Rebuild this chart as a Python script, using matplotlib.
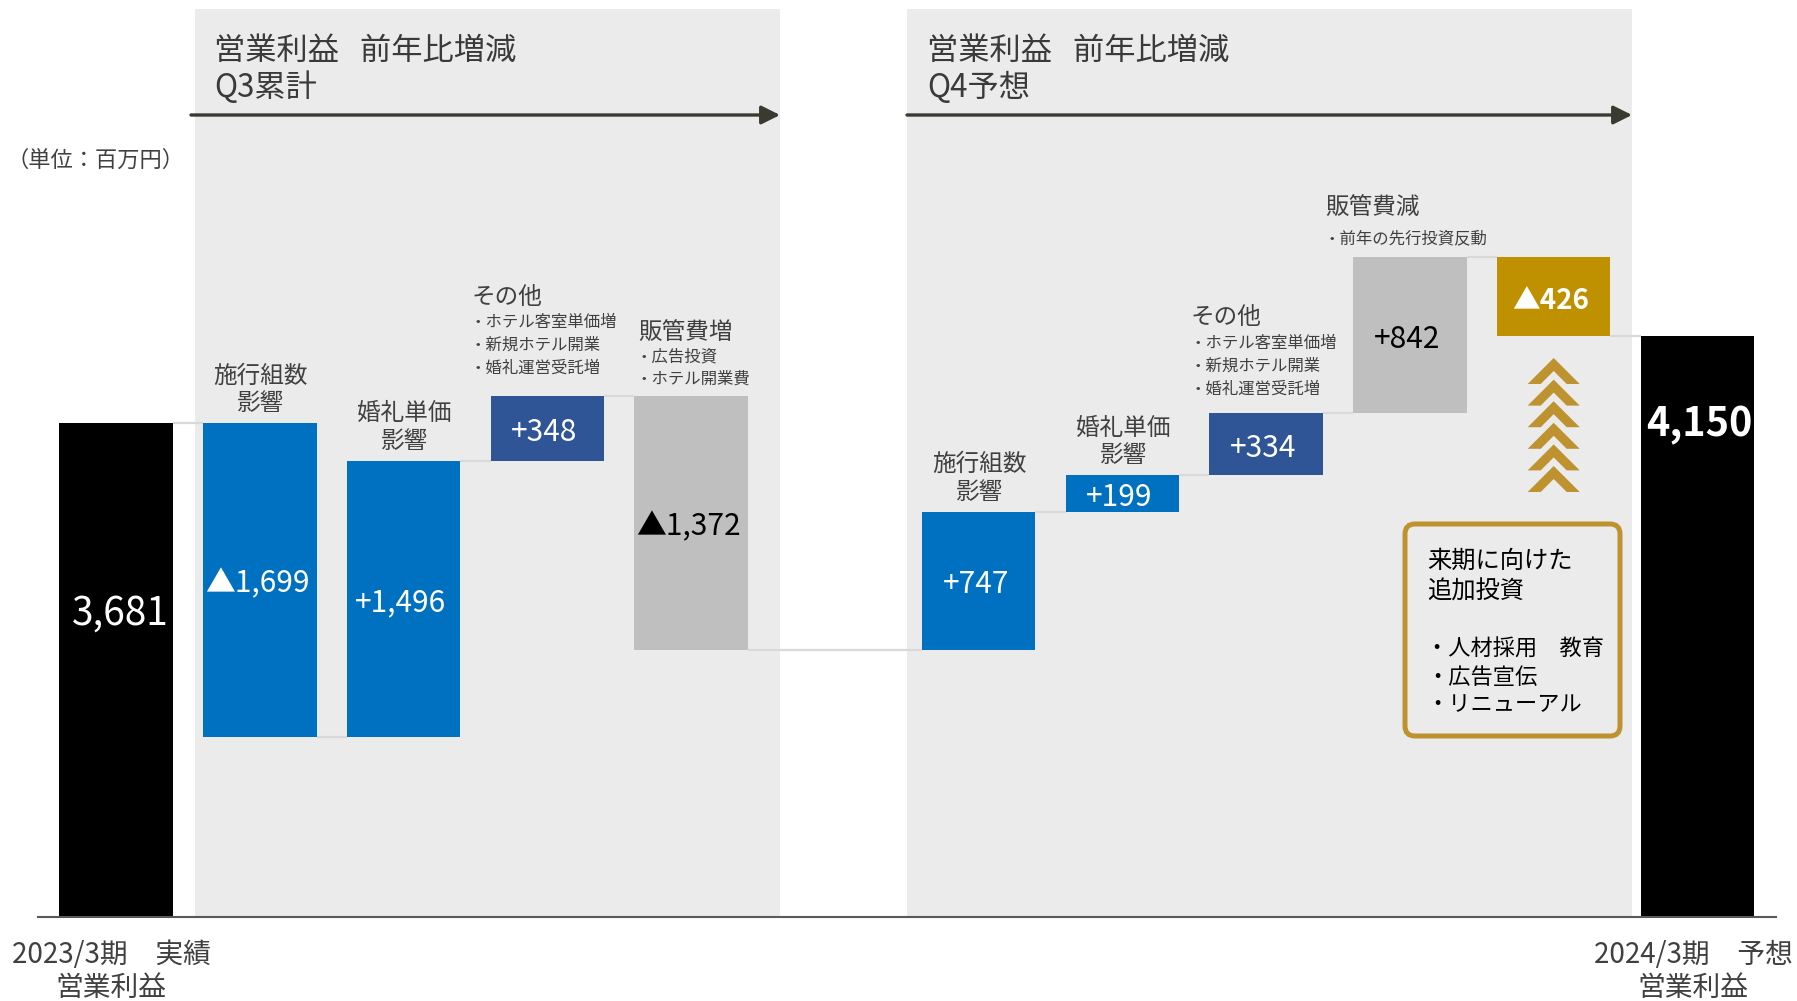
import matplotlib
matplotlib.use('Agg')
import matplotlib.pyplot as plt
from matplotlib.patches import Rectangle, FancyBboxPatch, Polygon

plt.rcParams['font.family'] = ['Noto Sans CJK JP', 'DejaVu Sans']

# * data (単位：百万円)
start_label = ['2023/3期　実績', '営業利益']
end_label = ['2024/3期　予想', '営業利益']
start_value = 3681
end_value = 4150
step_values = [-1699, 1496, 348, -1372, 747, 199, 334, 842, -426]
step_titles = [['施行組数', '影響'], ['婚礼単価', '影響'], None, None,
               ['施行組数', '影響'], ['婚礼単価', '影響'], None, None, None]
side_notes = [
    ('その他', ['・ホテル客室単価増', '・新規ホテル開業', '・婚礼運営受託増']),
    ('販管費増', ['・広告投資', '・ホテル開業費']),
    ('その他', ['・ホテル客室単価増', '・新規ホテル開業', '・婚礼運営受託増']),
    ('販管費減', ['・前年の先行投資反動']),
]
panel_titles = [('営業利益   前年比増減', 'Q3累計'), ('営業利益   前年比増減', 'Q4予想')]
box_title = ['来期に向けた', '追加投資']
box_items = ['・人材採用　教育', '・広告宣伝', '・リニューアル']

# * layout
W, H = 1797, 1001
step_pos = [1, 2, 3, 4, 6, 7, 8, 9, 10]
start_pos, end_pos = 0, 11
bar_w = 0.79
x0_px, dx_px = 116, 143.77        # pixel x of slot 0, pixels per slot
y_ref_px, px_per_unit = 423, 0.185  # pixel y of start_value
base_px = 917

BLUE = '#0070C0'
NAVY = '#2F5597'
GRAY = '#BFBFBF'
GOLD = '#BF9000'
GOLD2 = '#BF9230'
TXT = '#404040'
step_colors = [BLUE, BLUE, NAVY, GRAY, BLUE, BLUE, NAVY, GRAY, GOLD]


def px_to_val(p):
    return start_value + (y_ref_px - p) / px_per_unit


def val_to_px(v):
    return y_ref_px + (start_value - v) * px_per_unit


def slot_to_px(s):
    return x0_px + s * dx_px


fig = plt.figure(figsize=(W / 100, H / 100), dpi=100)

back = fig.add_axes([0, 0, 1, 1], zorder=0)
back.set_xlim(0, W)
back.set_ylim(H, 0)
back.axis('off')

ax = fig.add_axes([0, 1 - base_px / H, 1, base_px / H], zorder=1)
ax.patch.set_visible(False)
ax.set_xlim(-x0_px / dx_px, (W - x0_px) / dx_px)
ax.set_ylim(px_to_val(base_px), px_to_val(0))
ax.axis('off')

front = fig.add_axes([0, 0, 1, 1], zorder=2)
front.patch.set_visible(False)
front.set_xlim(0, W)
front.set_ylim(H, 0)
front.axis('off')

# 背景パネル
for left, right in [(195, 780), (907, 1632)]:
    back.add_patch(Rectangle((left, 9), right - left, base_px - 9,
                             facecolor='#EBEBEB', edgecolor='none'))

# 滝グラフ
bottoms, heights, levels = [], [], [start_value]
level = start_value
for v in step_values:
    bottoms.append(level if v > 0 else level + v)
    heights.append(abs(v))
    level += v
    levels.append(level)

ax.bar([start_pos, end_pos], [start_value, end_value], width=bar_w,
       color='black', zorder=3)
ax.bar(step_pos, heights, bottom=bottoms, width=bar_w, color=step_colors,
       zorder=3)

all_pos = [start_pos] + step_pos + [end_pos]
for k in range(len(all_pos) - 1):
    ax.hlines(levels[k], all_pos[k] + bar_w / 2, all_pos[k + 1] - bar_w / 2,
              color='#D9D9D9', lw=1.6, zorder=2)

# 数値ラベル
for p, b, h, v, c in zip(step_pos, bottoms, heights, step_values, step_colors):
    txt = ('+{:,}' if v > 0 else '▲{:,}').format(abs(v))
    bold = c == GOLD
    y = px_to_val(val_to_px(b + h / 2) + 4)
    ax.text(p - 0.02, y, txt, ha='center', va='center',
            color='black' if c == GRAY else 'white',
            fontsize=20 if bold else 21.5,
            fontweight='bold' if bold else 'normal', zorder=4)
ax.text(start_pos + 0.03, px_to_val(614), '{:,}'.format(start_value),
        ha='center', va='center', color='white', fontsize=28, zorder=4)
ax.text(end_pos + 0.01, px_to_val(425), '{:,}'.format(end_value),
        ha='center', va='center', color='white', fontsize=28.5,
        fontweight='bold', zorder=4)

# 項目名（棒の上）
for p, b, h, t in zip(step_pos, bottoms, heights, step_titles):
    if t is None:
        continue
    top_px = val_to_px(b + h)
    front.text(slot_to_px(p) + 1, top_px - 47, t[0], ha='center', va='center',
               fontsize=17, color=TXT)
    front.text(slot_to_px(p) + 1, top_px - 19, t[1], ha='center', va='center',
               fontsize=17, color=TXT)

note_xy = [(472, [297, 323, 345, 368]), (638, [332, 357, 379]),
           (1191, [317, 343.5, 366, 389]), (1325, [208, 239])]
for (head, items), (x, ys) in zip(side_notes, note_xy):
    front.text(x, ys[0], head, ha='left', va='center', fontsize=17, color=TXT)
    for it, y in zip(items, ys[1:]):
        front.text(x - 2, y, it, ha='left', va='center', fontsize=11.8,
                   color=TXT)

# 見出しと矢印
for (l1, l2), x, (a0, a1) in zip(panel_titles, [214, 927],
                                 [(191, 780), (907, 1632)]):
    front.text(x, 51, l1, ha='left', va='center', fontsize=22.5,
               color='#3A3A3A')
    front.text(x, 88, l2, ha='left', va='center', fontsize=22.5,
               color='#3A3A3A')
    front.annotate('', xy=(a1, 115), xytext=(a0, 115),
                   arrowprops=dict(arrowstyle='-|>', lw=2.4, color='#3B3A30',
                                   mutation_scale=28, shrinkA=0, shrinkB=0))

front.text(7, 160, '（単位：百万円）', ha='left', va='center',
           fontsize=16, color=TXT)

# 基準線
front.plot([38, 1776], [base_px, base_px], color='#595959', lw=1.5)

# 下部ラベル
for lines, x in [(start_label, 111), (end_label, 1693)]:
    front.text(x, 955, lines[0], ha='center', va='center', fontsize=20,
               color=TXT)
    front.text(x, 988, lines[1], ha='center', va='center', fontsize=20,
               color=TXT)

# 上向きシェブロン
cx = slot_to_px(10)
for k in range(6):
    top = 358 + k * 21.6
    t = 13
    front.add_patch(Polygon([(cx, top), (cx + 26, top + 26),
                             (cx + 26 - t, top + 26), (cx, top + t),
                             (cx - 26 + t, top + 26), (cx - 26, top + 26)],
                            closed=True, facecolor=GOLD2, edgecolor='none'))

# 来期投資ボックス
front.add_patch(FancyBboxPatch((1405, 524), 215, 212,
                               boxstyle='round,pad=0,rounding_size=10',
                               fill=False, edgecolor=GOLD2, lw=3.6))
for s, y in zip(box_title, [561, 592]):
    front.text(1427, y, s, ha='left', va='center', fontsize=17.5,
               color='black')
for s, y in zip(box_items, [649, 677, 705]):
    front.text(1426, y, s, ha='left', va='center', fontsize=16,
               color='black')

fig.savefig('out.png', dpi=100)
plt.close(fig)
